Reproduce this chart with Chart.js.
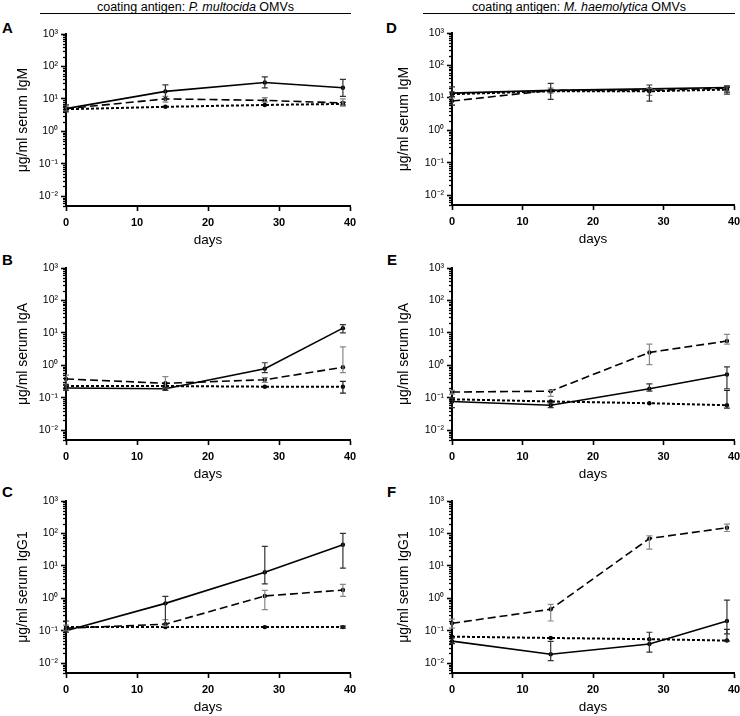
<!DOCTYPE html>
<html><head><meta charset="utf-8">
<script src="https://cdn.jsdelivr.net/npm/chart.js@4.4.0/dist/chart.umd.min.js"></script>
<style>
body{margin:0;width:740px;height:716px;overflow:hidden;background:#fff;position:relative;font-family:"Liberation Sans",Arial,sans-serif;color:#000;}
canvas{position:absolute;}
.hdr{position:absolute;font-size:12.5px;text-align:center;top:0px;white-space:nowrap;}
.rule{position:absolute;height:0;border-top:1.6px solid #000;top:13px;}
.lab{position:absolute;font-size:15px;font-weight:bold;line-height:15px;}
</style></head><body>
<div class="hdr" style="left:40px;width:311px;">coating antigen: <i>P. multocida</i> OMVs</div>
<div class="rule" style="left:40px;width:311px;"></div>
<div class="hdr" style="left:423px;width:312px;">coating antigen: <i>M. haemolytica</i> OMVs</div>
<div class="rule" style="left:423px;width:312px;"></div>
<div class="lab" style="left:2px;top:20px;">A</div>
<div class="lab" style="left:386px;top:20px;">D</div>
<div class="lab" style="left:2px;top:252px;">B</div>
<div class="lab" style="left:387px;top:252px;">E</div>
<div class="lab" style="left:2px;top:484px;">C</div>
<div class="lab" style="left:387px;top:484px;">F</div>
<canvas id="cA" width="370" height="226" style="left:0;top:24px"></canvas>
<canvas id="cD" width="370" height="226" style="left:370px;top:23px"></canvas>
<canvas id="cB" width="370" height="226" style="left:0;top:258px"></canvas>
<canvas id="cE" width="370" height="226" style="left:370px;top:258px"></canvas>
<canvas id="cC" width="370" height="226" style="left:0;top:491px"></canvas>
<canvas id="cF" width="370" height="226" style="left:370px;top:491px"></canvas>
<script>
// ---- data ----
const days = [0, 14, 28, 39];
const xTicks = [0, 10, 20, 30, 40];
const yTickValues = [0.01, 0.1, 1, 10, 100, 1000];
const yTickLabels = ['10\u207B\u00B2', '10\u207B\u00B9', '10\u2070', '10\u00B9', '10\u00B2', '10\u00B3'];

// Panel A: IgM, P. multocida OMVs
const aSolid = [5, 17, 32, 22];
const aSolidLo = [4, 10, 22, 12];
const aSolidHi = [6.5, 27, 48, 40];
const aDashed = [5, 10, 9, 7.5];
const aDashedLo = [4.2, 8, 8, 6];
const aDashedHi = [6, 12, 11, 10];
const aDotted = [4.8, 5.7, 6.5, 7];
const aDottedLo = [4.2, null, null, 6.4];
const aDottedHi = [5.5, null, null, 7.8];

// Panel D: IgM, M. haemolytica OMVs
const dSolid = [14, 17, 19, 21];
const dSolidLo = [6, 9, 8, 13];
const dSolidHi = [22, 28, 25, 23];
const dDashed = [8, 17, 17, 20];
const dDashedLo = [6, 14, 12, 16];
const dDashedHi = [10, 20, 20, 24];
const dDotted = [13, 16, 16, 18];
const dDottedLo = [11, null, null, 15];
const dDottedHi = [15, null, null, 21];

// Panel B: IgA, P. multocida OMVs
const bSolid = [0.2, 0.19, 0.79, 14];
const bSolidLo = [0.17, 0.17, 0.6, 10];
const bSolidHi = [0.24, 0.21, 1.2, 18];
const bDashed = [0.38, 0.28, 0.36, 0.87];
const bDashedLo = [0.17, 0.2, 0.3, 0.6];
const bDashedHi = [0.5, 0.45, 0.42, 3.7];
const bDotted = [0.23, 0.23, 0.22, 0.22];
const bDottedLo = [0.2, null, null, 0.14];
const bDottedHi = [0.26, null, null, 0.32];

// Panel E: IgA, M. haemolytica OMVs
const eSolid = [0.077, 0.059, 0.19, 0.52];
const eSolidLo = [0.05, 0.05, 0.16, 0.19];
const eSolidHi = [0.1, 0.07, 0.27, 0.9];
const eDashed = [0.15, 0.16, 2.5, 5.6];
const eDashedLo = [0.13, 0.11, 1.05, 4.5];
const eDashedHi = [0.17, 0.17, 4.5, 9];
const eDotted = [0.09, 0.077, 0.068, 0.059];
const eDottedLo = [0.08, null, null, 0.048];
const eDottedHi = [0.1, null, null, 0.17];

// Panel C: IgG1, P. multocida OMVs
const cSolid = [0.1, 0.7, 6.4, 45];
const cSolidLo = [0.09, 0.16, 2.8, 8.5];
const cSolidHi = [0.2, 1.15, 40, 100];
const cDashed = [0.12, 0.16, 1.18, 1.8];
const cDashedLo = [0.1, 0.14, 0.45, 1.15];
const cDashedHi = [0.15, 0.22, 1.75, 2.7];
const cDotted = [0.13, 0.13, 0.13, 0.13];
const cDottedLo = [null, null, null, 0.12];
const cDottedHi = [null, null, null, 0.14];

// Panel F: IgG1, M. haemolytica OMVs
const fSolid = [0.048, 0.019, 0.039, 0.2];
const fSolidLo = [0.04, 0.012, 0.022, 0.08];
const fSolidHi = [0.06, 0.047, 0.09, 0.88];
const fDashed = [0.17, 0.46, 70, 150];
const fDashedLo = [0.12, 0.2, 33, 115];
const fDashedHi = [0.23, 0.65, 85, 195];
const fDotted = [0.066, 0.06, 0.055, 0.05];
const fDottedLo = [null, null, null, 0.048];
const fDottedHi = [null, null, null, 0.11];

// ---- plugins ----
const minorTicks = {
  id: 'minorTicks',
  afterDraw(chart) {
    const y = chart.scales.y, ctx = chart.ctx;
    const x0 = chart.chartArea.left;
    ctx.save();
    ctx.strokeStyle = '#000';
    ctx.lineWidth = 1.3;
    for (let n = -3; n <= 2; n++) {
      for (let k = 2; k <= 9; k++) {
        const v = k * Math.pow(10, n);
        if (v < y.min || v > y.max) continue;
        const py = Math.round(y.getPixelForValue(v)) + 0.5;
        ctx.beginPath(); ctx.moveTo(x0 - 3, py); ctx.lineTo(x0, py); ctx.stroke();
      }
    }
    ctx.restore();
  }
};
const errorBars = {
  id: 'errorBars',
  afterDatasetsDraw(chart) {
    const xs = chart.scales.x, ys = chart.scales.y, ctx = chart.ctx;
    ctx.save();
    chart.data.datasets.forEach(ds => {
      ctx.strokeStyle = ds.errColor;
      ctx.lineWidth = 1.2;
      ds.data.forEach((v, i) => {
        const lo = ds.errLo[i], hi = ds.errHi[i];
        if (lo == null || hi == null) return;
        const px = xs.getPixelForValue(days[i]);
        const pl = ys.getPixelForValue(lo), ph = ys.getPixelForValue(hi);
        ctx.beginPath();
        ctx.moveTo(px, pl); ctx.lineTo(px, ph);
        ctx.moveTo(px - 3, pl); ctx.lineTo(px + 3, pl);
        ctx.moveTo(px - 3, ph); ctx.lineTo(px + 3, ph);
        ctx.stroke();
      });
    });
    ctx.restore();
  }
};

function series(vals, lo, hi, dash, width, errColor) {
  return {
    data: vals.map((v, i) => ({x: days[i], y: v})),
    errLo: lo, errHi: hi, errColor: errColor,
    borderColor: '#000', borderWidth: width, borderDash: dash,
    pointRadius: 2.2, pointBackgroundColor: '#000', pointBorderWidth: 0,
    tension: 0, clip: false, fill: false
  };
}

function makeChart(id, yTitle, right, s, d, t) {
  const yWidth = right ? 82 : 66;
  const titlePad = right ? 26 : 15;
  new Chart(document.getElementById(id), {
    type: 'line',
    data: { datasets: [
      series(t[0], t[1], t[2], [3, 2], 2, '#222'),
      series(d[0], d[1], d[2], [8, 4], 1.6, '#888'),
      series(s[0], s[1], s[2], [], 1.6, '#333')
    ]},
    options: {
      responsive: false, animation: false, devicePixelRatio: 1,
      layout: { padding: { top: 10, left: 0, right: right ? 6 : 20, bottom: 0 } },
      plugins: { legend: { display: false }, tooltip: { enabled: false } },
      scales: {
        x: {
          type: 'linear', min: 0, max: 40,
          afterBuildTicks: sc => { sc.ticks = xTicks.map(v => ({value: v})); },
          afterFit: sc => { sc.height = 44; sc.paddingRight = 0; sc.paddingLeft = 0; },
          ticks: { color: '#000', padding: 5, font: { family: 'Liberation Sans', size: 11, weight: 'bold' } },
          grid: { drawOnChartArea: false, drawTicks: true, tickLength: 5, tickColor: '#000', tickWidth: 1.6 },
          border: { color: '#000', width: 2 },
          title: { display: true, text: 'days', color: '#000', padding: { top: 0, bottom: 2 },
                   font: { family: 'Liberation Sans', size: 13.5 } }
        },
        y: {
          type: 'logarithmic', min: 0.005, max: 1000,
          afterBuildTicks: sc => { sc.ticks = yTickValues.map(v => ({value: v, major: true})); },
          afterFit: sc => { sc.width = yWidth; },
          ticks: { color: '#000', padding: 3, autoSkip: false,
                   font: { family: 'Liberation Sans', size: 10.5 },
                   callback: (v, i) => yTickLabels[i] },
          grid: { drawOnChartArea: false, drawTicks: true, tickLength: 5, tickColor: '#000', tickWidth: 1.6 },
          border: { color: '#000', width: 2 },
          title: { display: true, text: yTitle, color: '#000', padding: { top: titlePad, bottom: 0 },
                   font: { family: 'Liberation Sans', size: 14 } }
        }
      }
    },
    plugins: [minorTicks, errorBars]
  });
}

makeChart('cA', 'μg/ml serum IgM', false, [aSolid, aSolidLo, aSolidHi], [aDashed, aDashedLo, aDashedHi], [aDotted, aDottedLo, aDottedHi]);
makeChart('cD', 'μg/ml serum IgM', true, [dSolid, dSolidLo, dSolidHi], [dDashed, dDashedLo, dDashedHi], [dDotted, dDottedLo, dDottedHi]);
makeChart('cB', 'μg/ml serum IgA', false, [bSolid, bSolidLo, bSolidHi], [bDashed, bDashedLo, bDashedHi], [bDotted, bDottedLo, bDottedHi]);
makeChart('cE', 'μg/ml serum IgA', true, [eSolid, eSolidLo, eSolidHi], [eDashed, eDashedLo, eDashedHi], [eDotted, eDottedLo, eDottedHi]);
makeChart('cC', 'μg/ml serum IgG1', false, [cSolid, cSolidLo, cSolidHi], [cDashed, cDashedLo, cDashedHi], [cDotted, cDottedLo, cDottedHi]);
makeChart('cF', 'μg/ml serum IgG1', true, [fSolid, fSolidLo, fSolidHi], [fDashed, fDashedLo, fDashedHi], [fDotted, fDottedLo, fDottedHi]);
</script>
</body></html>
